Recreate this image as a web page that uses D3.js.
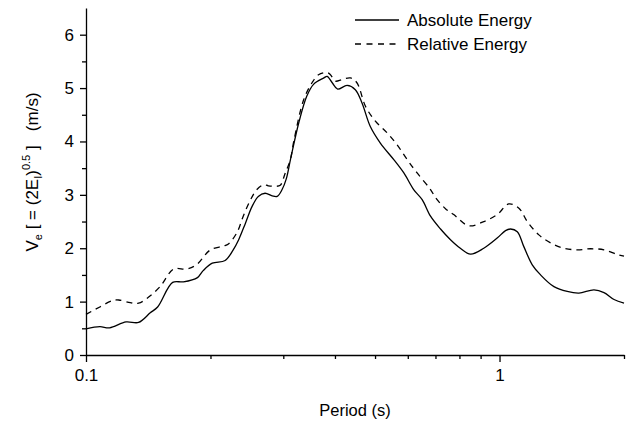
<!DOCTYPE html>
<html>
<head>
<meta charset="utf-8">
<script src="https://cdn.jsdelivr.net/npm/d3@7"></script>
<style>
body { margin: 0; background: #fff; }
text { font-family: "Liberation Sans", Arial, sans-serif; }
</style>
</head>
<body>
<script>
var width = 633, height = 427;

// period (s) and values (m/s)
var absPeriod = [0.100, 0.108, 0.114, 0.125, 0.134, 0.143, 0.149, 0.162, 0.172, 0.186, 0.192, 0.202, 0.217, 0.227, 0.234, 0.243, 0.252, 0.261, 0.271, 0.282, 0.290, 0.298, 0.305, 0.312, 0.327, 0.342, 0.355, 0.376, 0.383, 0.394, 0.406, 0.428, 0.448, 0.465, 0.487, 0.515, 0.555, 0.587, 0.620, 0.650, 0.681, 0.720, 0.761, 0.804, 0.851, 0.916, 0.987, 1.034, 1.063, 1.104, 1.145, 1.200, 1.257, 1.354, 1.458, 1.556, 1.692, 1.789, 1.892, 2.000];
var absEnergy = [0.49, 0.53, 0.51, 0.62, 0.61, 0.79, 0.90, 1.36, 1.37, 1.45, 1.58, 1.72, 1.77, 1.97, 2.16, 2.47, 2.78, 2.97, 3.03, 2.98, 2.97, 3.10, 3.30, 3.65, 4.35, 4.85, 5.07, 5.19, 5.22, 5.10, 4.98, 5.05, 4.97, 4.72, 4.28, 3.97, 3.66, 3.41, 3.10, 2.91, 2.60, 2.36, 2.16, 2.00, 1.89, 2.00, 2.19, 2.33, 2.36, 2.31, 2.03, 1.69, 1.50, 1.28, 1.19, 1.16, 1.22, 1.17, 1.04, 0.97];

var relPeriod = [0.100, 0.108, 0.116, 0.120, 0.128, 0.134, 0.142, 0.151, 0.163, 0.175, 0.185, 0.200, 0.215, 0.221, 0.232, 0.240, 0.250, 0.259, 0.269, 0.276, 0.287, 0.295, 0.303, 0.312, 0.318, 0.336, 0.352, 0.365, 0.383, 0.390, 0.401, 0.416, 0.436, 0.452, 0.474, 0.501, 0.535, 0.565, 0.598, 0.632, 0.681, 0.700, 0.740, 0.775, 0.843, 0.916, 0.987, 1.053, 1.114, 1.167, 1.245, 1.329, 1.431, 1.542, 1.661, 1.789, 1.928, 2.000];
var relEnergy = [0.76, 0.90, 1.02, 1.03, 0.98, 0.97, 1.09, 1.28, 1.61, 1.61, 1.69, 1.97, 2.04, 2.08, 2.30, 2.60, 2.91, 3.10, 3.19, 3.17, 3.16, 3.18, 3.40, 3.66, 4.00, 4.78, 5.10, 5.25, 5.29, 5.25, 5.13, 5.16, 5.19, 5.10, 4.66, 4.38, 4.16, 3.94, 3.66, 3.41, 3.10, 2.95, 2.74, 2.63, 2.42, 2.50, 2.63, 2.83, 2.75, 2.50, 2.25, 2.10, 2.00, 1.97, 1.99, 1.97, 1.88, 1.85];

var xMajor = [0.1, 1];
var xMinor = [0.2, 0.3, 0.4, 0.5, 0.6, 0.7, 0.8, 0.9, 2];
var yMajor = [0, 1, 2, 3, 4, 5, 6];
var yMinor = [0.5, 1.5, 2.5, 3.5, 4.5, 5.5];

var legendNames = ['Absolute Energy', 'Relative Energy'];

var svg = d3.select('body').append('svg')
	.attr('width', width)
	.attr('height', height);

var x = d3.scaleLog().domain([0.1, 2]).range([86, 624]);
var y = d3.scaleLinear().domain([0, 6.5]).range([355, 8]);

// axes
var fmt = function(d){ return d === 0.1 ? '0.1' : String(d); };

svg.append('g')
	.attr('transform', 'translate(0,355)')
	.call(d3.axisBottom(x).tickValues(xMinor).tickSize(4).tickFormat(''))
	.call(function(g){ g.select('.domain').remove(); });

svg.append('g')
	.attr('transform', 'translate(0,355)')
	.call(d3.axisBottom(x).tickValues(xMajor).tickSize(7).tickSizeOuter(0).tickPadding(7).tickFormat(fmt));

svg.append('g')
	.attr('transform', 'translate(86,0)')
	.call(d3.axisLeft(y).tickValues(yMinor).tickSize(4).tickFormat(''))
	.call(function(g){ g.select('.domain').remove(); });

svg.append('g')
	.attr('transform', 'translate(86,0)')
	.call(d3.axisLeft(y).tickValues(yMajor).tickSize(6).tickSizeOuter(0).tickPadding(6).tickFormat(d3.format('d')));

svg.selectAll('.domain, .tick line').attr('stroke', '#000').attr('stroke-width', 1.3);
svg.selectAll('.tick text').attr('font-size', 17).attr('fill', '#000')
	.attr('font-family', '"Liberation Sans", Arial, sans-serif');

// curves
var line = d3.line()
	.x(function(d){ return x(d[0]); })
	.y(function(d){ return y(d[1]); })
	.curve(d3.curveCatmullRom);

var absData = d3.zip(absPeriod, absEnergy);
var relData = d3.zip(relPeriod, relEnergy);

svg.append('path')
	.datum(relData)
	.attr('d', line)
	.attr('fill', 'none')
	.attr('stroke', '#000')
	.attr('stroke-width', 1.3)
	.attr('stroke-dasharray', '6,5');

svg.append('path')
	.datum(absData)
	.attr('d', line)
	.attr('fill', 'none')
	.attr('stroke', '#000')
	.attr('stroke-width', 1.3);

// legend
var legend = svg.selectAll('.legend').data(legendNames)
	.enter().append('g')
		.attr('class', 'legend')
		.attr('transform', function(d, i){ return 'translate(355,' + (20 + i*24) + ')'; });

legend.append('line')
	.attr('x1', 0).attr('x2', 44)
	.attr('stroke', '#000')
	.attr('stroke-width', 1.3)
	.attr('stroke-dasharray', function(d, i){ return i ? '6,5.5' : null; });

legend.append('text')
	.attr('x', 52)
	.attr('y', 6)
	.attr('font-size', 17)
	.text(function(d){ return d; });

// axis titles
svg.append('text')
	.attr('x', 355)
	.attr('y', 416)
	.attr('text-anchor', 'middle')
	.attr('font-size', 16.5)
	.text('Period (s)');

var ylab = svg.append('text')
	.attr('transform', 'translate(38,172) rotate(-90)')
	.attr('text-anchor', 'middle')
	.attr('font-size', 17);
ylab.append('tspan').text('V');
ylab.append('tspan').attr('font-size', 11).attr('dy', 4).text('e');
ylab.append('tspan').attr('dy', -4).text('\u00a0[\u00a0=\u00a0(2E');
ylab.append('tspan').attr('font-size', 11).attr('dy', 4).text('I');
ylab.append('tspan').attr('dy', -4).text(')');
ylab.append('tspan').attr('font-size', 11).attr('dy', -8).text('0.5');
ylab.append('tspan').attr('dy', 8).text('\u00a0]\u00a0\u00a0\u00a0(m/s)');
</script>
</body>
</html>
